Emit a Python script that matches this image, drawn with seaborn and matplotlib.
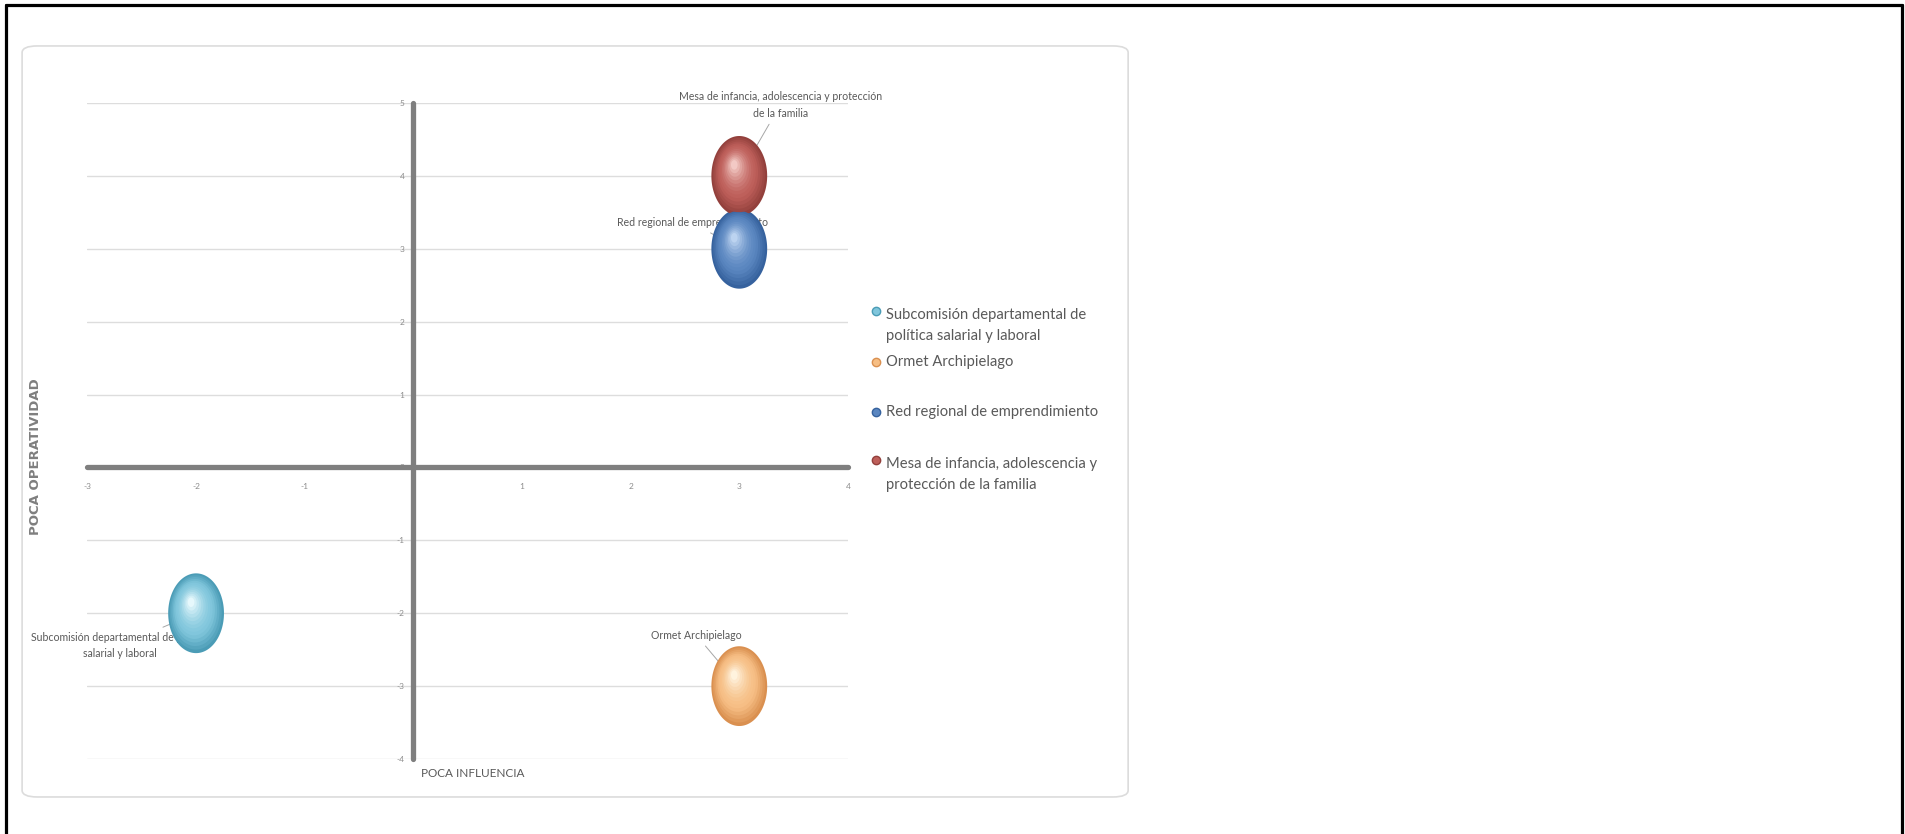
import numpy as np
import pandas as pd
import matplotlib
matplotlib.use("Agg")
import matplotlib.pyplot as plt
import matplotlib.transforms as mtransforms
from matplotlib.path import Path
from matplotlib.patches import FancyBboxPatch
from matplotlib.lines import Line2D
from matplotlib.colors import to_rgb
import seaborn as sns

# =====================================
# DATA
# =====================================

names = [
    "Subcomisión departamental de política salarial y laboral",
    "Ormet Archipielago",
    "Red regional de emprendimiento",
    "Mesa de infancia, adolescencia y protección de la familia",
]
influencia = [-2, 3, 3, 3]
operatividad = [-2, -3, 3, 4]

point_labels = [
    "Subcomisión departamental de política\nsalarial y laboral",
    "Ormet Archipielago",
    "Red regional de emprendimiento",
    "Mesa de infancia, adolescencia y protección\nde la familia",
]
legend_labels = [
    "Subcomisión departamental de\npolítica salarial y laboral",
    "Ormet Archipielago",
    "Red regional de emprendimiento",
    "Mesa de infancia, adolescencia y\nprotección de la familia",
]

x_ticks = [-3, -2, -1, 0, 1, 2, 3, 4]
x_tick_labels = ["-3", "-2", "-1", "", "1", "2", "3", "4"]
y_ticks = [-4, -3, -2, -1, 0, 1, 2, 3, 4, 5]

# shading: dark rim, body, highlight
dark_colors = ["#4B9CB6", "#DA9050", "#36629E", "#93403C"]
body_colors = ["#80C6DC", "#F6BE84", "#5A86C0", "#BE5F5A"]
light_colors = ["#E6F8FC", "#FFF3DE", "#BCD3F0", "#F3C9C5"]

# label offsets in pixels from the bubble centre
label_dx = [-76, -43, -47, 41]
label_dy = [-32, 51, 26, 71]

df = pd.DataFrame({"name": names, "x": influencia, "y": operatividad})

# =====================================
# STYLE
# =====================================

sns.set_style("white")
plt.rcParams["font.family"] = ["Lato", "DejaVu Sans"]
plt.rcParams["axes.unicode_minus"] = False

GRAY = "#7F7F7F"
TEXT = "#595959"

fig = plt.figure(figsize=(19.05, 8.34), dpi=100)

# outer frame (left, top, right)
for xs, ys in [([0.0032, 0.0032], [0, 0.9935]),
               ([0.0032, 0.9985], [0.9935, 0.9935]),
               ([0.9985, 0.9985], [0, 0.9935])]:
    fig.add_artist(Line2D(xs, ys, color="black", lw=2.3,
                          transform=fig.transFigure))

# chart area
fig.add_artist(FancyBboxPatch(
    (0.0116, 0.0444), 0.5806, 0.9005,
    boxstyle="round,pad=0,rounding_size=0.008",
    transform=fig.transFigure, facecolor="white",
    edgecolor="#DCDCDC", lw=1.2, zorder=0
))

ax = fig.add_axes([0.0459, 0.0899, 0.3992, 0.7866])
ax.set_facecolor("none")

# =====================================
# BUBBLES
# =====================================

theta = np.linspace(0, 2 * np.pi, 120)
ellipse = Path(np.column_stack([np.cos(theta) / 1.43, np.sin(theta)]), closed=True)

n_layers = 14
base_s = 3300
for k in range(n_layers):
    t = k / (n_layers - 1)
    pal = {}
    for i, nm in enumerate(names):
        d = np.array(to_rgb(dark_colors[i]))
        b = np.array(to_rgb(body_colors[i]))
        l = np.array(to_rgb(light_colors[i]))
        if t < 0.35:
            c = d + (b - d) * (t / 0.35)
        else:
            c = b + (l - b) * ((t - 0.35) / 0.65) ** 1.6
        pal[nm] = tuple(c)
    frac = 1 - 0.88 * t
    tr = mtransforms.offset_copy(ax.transData, fig=fig,
                                 x=-5 * t, y=11 * t, units="dots")
    sns.scatterplot(
        data=df, x="x", y="y", hue="name", palette=pal,
        s=base_s * frac ** 2, marker=ellipse, linewidth=0,
        legend=False, ax=ax, transform=tr, zorder=3 + k * 0.01
    )

# =====================================
# DATA LABELS
# =====================================

for i in range(len(names)):
    ax.annotate(
        point_labels[i],
        xy=(influencia[i], operatividad[i]),
        xytext=(label_dx[i], label_dy[i]),
        textcoords="offset pixels",
        ha="center", va="center",
        fontsize=7.6, color=TEXT, zorder=2, linespacing=1.6,
        arrowprops=dict(arrowstyle="-", color="#A6A6A6", lw=0.7,
                        shrinkA=2, shrinkB=0)
    )

# =====================================
# AXES
# =====================================

ax.set_xlim(-3, 4)
ax.set_ylim(-4, 5)
ax.set_xticks(x_ticks)
ax.set_xticklabels(x_tick_labels)
ax.set_yticks(y_ticks)

ax.spines["left"].set_position(("data", 0))
ax.spines["bottom"].set_position(("data", 0))
ax.spines["top"].set_visible(False)
ax.spines["right"].set_visible(False)
for side in ["left", "bottom"]:
    ax.spines[side].set_color(GRAY)
    ax.spines[side].set_linewidth(3.8)
    ax.spines[side].set_zorder(1.5)
    ax.spines[side].set_capstyle("round")

ax.yaxis.grid(True, color="#DDDDDD", lw=1)
ax.xaxis.grid(False)
ax.set_axisbelow(True)

ax.tick_params(axis="both", direction="inout", length=5, width=0.8,
               color=GRAY, labelsize=6, labelcolor="#8C8C8C")
ax.tick_params(axis="x", pad=9)
ax.tick_params(axis="y", pad=4)
ax.set_xlabel("")
ax.set_ylabel("")

fig.text(0.0185, 0.453, "POCA OPERATIVIDAD", rotation=90,
         ha="center", va="center", fontsize=9.5, fontweight="bold",
         color=GRAY, family=["DejaVu Sans"])
fig.text(0.221, 0.072, "POCA INFLUENCIA", ha="left", va="center",
         fontsize=8.5, color=TEXT)

# =====================================
# LEGEND
# =====================================

legend_y = [0.610, 0.566, 0.506, 0.431]
for i, lab in enumerate(legend_labels):
    two = "\n" in lab
    y_first = legend_y[i] + (0.0175 if two else 0)
    fig.add_artist(Line2D([0.4600], [y_first], marker="o", markersize=6,
                          markerfacecolor=body_colors[i],
                          markeredgecolor=dark_colors[i], lw=0,
                          transform=fig.transFigure))
    fig.text(0.4650, legend_y[i], lab, ha="left", va="center",
             fontsize=10.6, color=TEXT, linespacing=1.6)

plt.savefig("out.png", dpi=100)
plt.close()
